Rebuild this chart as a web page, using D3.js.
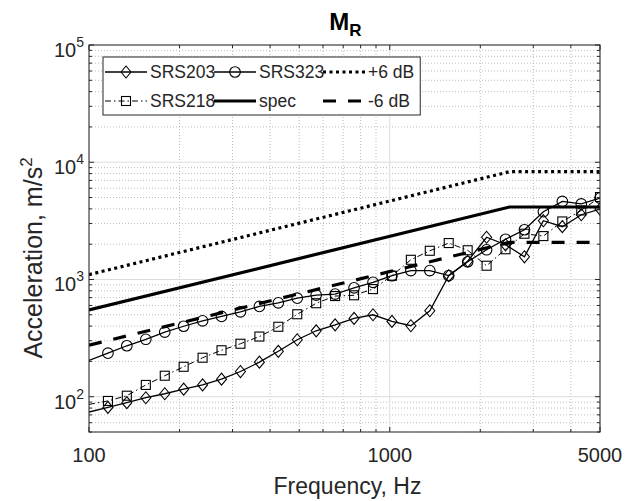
<!DOCTYPE html>
<html><head><meta charset="utf-8">
<script src="https://cdn.jsdelivr.net/npm/d3@7"></script>
<style>
body{margin:0;background:#fff}
svg{display:block}
text{font-family:"Liberation Sans",Arial,Helvetica,sans-serif;fill:#262626}
</style>
</head><body>
<svg id="c" width="627" height="501"></svg>
<script>
// ---------------- data ----------------
const freqs = [100,115.6,133.6,154.5,178.6,206.4,238.6,275.8,318.8,368.6,426.1,492.5,569.3,658.1,760.8,879.5,1016.7,1175.2,1358.5,1570.4,1815.3,2098.5,2425.8,2804.2,3241.5,3747.1,4331.6,5000];
const srs203 = [74,81,89,98,106,116,126,141,164,197,244,306,365,410,465,500,439,403,541,1076,1430,2291,1977,1562,3170,2818,3565,3990];
const srs323 = [204,235,272,309,356,399,444,484,530,589,632,692,736,750,849,946,1076,1191,1191,1080,1416,1792,2203,2655,3783,4632,4407,4945];
const srs218 = [86,92,102,126,151,180,215,249,283,326,395,505,627,722,733,828,1076,1472,1757,2045,1775,1310,1810,2455,2344,3126,3878,5047];
const specFreq = [100,2500,5000];
const specVal  = [550,4150,4150];
const plus6Val = [1100,8300,8300];
const minus6Val= [275,2075,2075];
const xTickVals = [100,1000,5000];
const xTickLabels = ["100","1000","5000"];
const yTickExp = [2,3,4,5];
const legendLabels = ["SRS203","SRS218","SRS323","spec","+6 dB","-6 dB"];

// ---------------- layout ----------------
const W=627,H=501;
const m={l:89,r:600,t:45,b:432};
const x=d3.scaleLog().domain([100,5000]).range([m.l,m.r]);
const y=d3.scaleLog().domain([50,1e5]).range([m.b,m.t]);
const svg=d3.select('#c');
svg.append('rect').attr('width',W).attr('height',H).attr('fill','#fff');
svg.append('defs').append('clipPath').attr('id','clip')
  .append('rect').attr('x',m.l).attr('y',m.t).attr('width',m.r-m.l).attr('height',m.b-m.t);

const AX='#262626';
const xAll = x.ticks().filter(v=>v>=100&&v<=5000);
const xMinor = xAll.filter(v=>!xTickVals.includes(v));
const yAll = y.ticks();
const yMajor = yTickExp.map(e=>Math.pow(10,e));
const yMinor = yAll.filter(v=>!yMajor.some(M=>Math.abs(M-v)<1e-6));

// grid
const g=svg.append('g');
g.selectAll('.xmg').data(xMinor).join('line')
  .attr('x1',d=>x(d)).attr('x2',d=>x(d)).attr('y1',m.t).attr('y2',m.b)
  .attr('stroke','#bdbdbd').attr('stroke-width',1).attr('stroke-dasharray','1,2');
g.selectAll('.ymg').data(yMinor).join('line')
  .attr('y1',d=>y(d)).attr('y2',d=>y(d)).attr('x1',m.l).attr('x2',m.r)
  .attr('stroke','#bdbdbd').attr('stroke-width',1).attr('stroke-dasharray','1,2');
g.selectAll('.xMg').data(xTickVals).join('line')
  .attr('x1',d=>x(d)).attr('x2',d=>x(d)).attr('y1',m.t).attr('y2',m.b)
  .attr('stroke','#dcdcdc').attr('stroke-width',1);
g.selectAll('.yMg').data(yMajor).join('line')
  .attr('y1',d=>y(d)).attr('y2',d=>y(d)).attr('x1',m.l).attr('x2',m.r)
  .attr('stroke','#dcdcdc').attr('stroke-width',1);

// series
const series=[
  {name:"SRS203",f:freqs,v:srs203,w:1.3,dash:null,marker:'diamond'},
  {name:"SRS218",f:freqs,v:srs218,w:1,dash:'6,3,1.5,3',marker:'square'},
  {name:"SRS323",f:freqs,v:srs323,w:1.3,dash:null,marker:'circle'},
  {name:"spec",f:specFreq,v:specVal,w:3.2,dash:null,marker:null},
  {name:"+6 dB",f:specFreq,v:plus6Val,w:3.2,dash:'3,3.5',marker:null},
  {name:"-6 dB",f:specFreq,v:minus6Val,w:3.2,dash:'13,12',marker:null}
];
const line=d3.line().x(d=>x(d[0])).y(d=>y(d[1]));
const dg=svg.append('g').attr('clip-path','url(#clip)');
function drawMarker(sel,type,cx,cy){
  if(type==='diamond'){
    sel.append('path').attr('d',`M${cx},${cy-6}L${cx+5},${cy}L${cx},${cy+6}L${cx-5},${cy}Z`)
      .attr('fill','none').attr('stroke','#000').attr('stroke-width',1.1);
  } else if(type==='circle'){
    sel.append('circle').attr('cx',cx).attr('cy',cy).attr('r',5.3)
      .attr('fill','none').attr('stroke','#000').attr('stroke-width',1.1);
  } else if(type==='square'){
    sel.append('rect').attr('x',cx-4.5).attr('y',cy-4.5).attr('width',9).attr('height',9)
      .attr('fill','none').attr('stroke','#000').attr('stroke-width',1.1);
  }
}
series.forEach(s=>{
  const pts=s.f.map((f,i)=>[f,s.v[i]]);
  const p=dg.append('path').attr('d',line(pts)).attr('fill','none')
    .attr('stroke','#000').attr('stroke-width',s.w);
  if(s.dash) p.attr('stroke-dasharray',s.dash);
  if(s.marker){
    pts.filter(d=>d[0]>x.domain()[0]).forEach(d=>drawMarker(dg,s.marker,x(d[0]),y(d[1])));
  }
});

// axes box & ticks
const ax=svg.append('g');
ax.append('rect').attr('x',m.l).attr('y',m.t).attr('width',m.r-m.l).attr('height',m.b-m.t)
  .attr('fill','none').attr('stroke',AX).attr('stroke-width',1);
function xt(vals,len){
  vals.forEach(v=>{
    ax.append('line').attr('x1',x(v)).attr('x2',x(v)).attr('y1',m.b).attr('y2',m.b-len).attr('stroke',AX);
    ax.append('line').attr('x1',x(v)).attr('x2',x(v)).attr('y1',m.t).attr('y2',m.t+len).attr('stroke',AX);
  });
}
function yt(vals,len){
  vals.forEach(v=>{
    ax.append('line').attr('y1',y(v)).attr('y2',y(v)).attr('x1',m.l).attr('x2',m.l+len).attr('stroke',AX);
    ax.append('line').attr('y1',y(v)).attr('y2',y(v)).attr('x1',m.r).attr('x2',m.r-len).attr('stroke',AX);
  });
}
xt(xTickVals,5); xt(xMinor,3); yt(yMajor,5); yt(yMinor,3);

// tick labels
xTickVals.forEach((v,i)=>{
  svg.append('text').attr('x',x(v)).attr('y',m.b+30).attr('text-anchor','middle')
    .attr('font-size',20).text(xTickLabels[i]);
});
yTickExp.forEach(e=>{
  const t=svg.append('text').attr('x',84).attr('y',y(Math.pow(10,e))+12).attr('text-anchor','end').attr('font-size',20);
  t.append('tspan').text('10');
  t.append('tspan').attr('font-size',14).attr('dy',-10).text(String(e));
});

// axis labels
svg.append('text').attr('x',(m.l+m.r)/2+3).attr('y',494).attr('text-anchor','middle')
  .attr('font-size',23).text('Frequency, Hz');
const yl=svg.append('text').attr('transform',`translate(42,258) rotate(-90)`)
  .attr('text-anchor','middle').attr('font-size',25);
yl.append('tspan').text('Acceleration, m/s');
yl.append('tspan').attr('font-size',17).attr('dy',-10).text('2');

// title
const tt=svg.append('text').attr('x',(m.l+m.r)/2+1).attr('y',30).attr('text-anchor','middle')
  .attr('font-size',24).attr('font-weight','bold').style('fill','#000');
tt.append('tspan').text('M');
tt.append('tspan').attr('font-size',17).attr('dy',6).text('R');

// legend
const lg=svg.append('g');
const lx=103, ly=57, lh=58, sampleL=42, fs=17.5;
const colX=[105,214,323];
const rowsY=[72,101];
let legRight=0;
series.forEach((s,i)=>{
  const col=Math.floor(i/2), row=i%2;
  const sx=colX[col], sy=rowsY[row];
  const l=lg.append('line').attr('x1',sx).attr('x2',sx+sampleL).attr('y1',sy).attr('y2',sy)
    .attr('stroke','#000').attr('stroke-width',s.w);
  if(s.dash) l.attr('stroke-dasharray',s.dash);
  if(s.marker) drawMarker(lg,s.marker,sx+sampleL/2,sy);
  const t=lg.append('text').attr('x',sx+sampleL+3).attr('y',sy+6.3).attr('font-size',fs).text(legendLabels[i]);
  legRight=Math.max(legRight,sx+sampleL+3+t.node().getComputedTextLength());
});
lg.insert('rect',':first-child').attr('x',lx).attr('y',ly).attr('width',legRight+6-lx).attr('height',lh)
  .attr('fill','#fff').attr('stroke',AX).attr('stroke-width',1);
</script>
</body></html>
